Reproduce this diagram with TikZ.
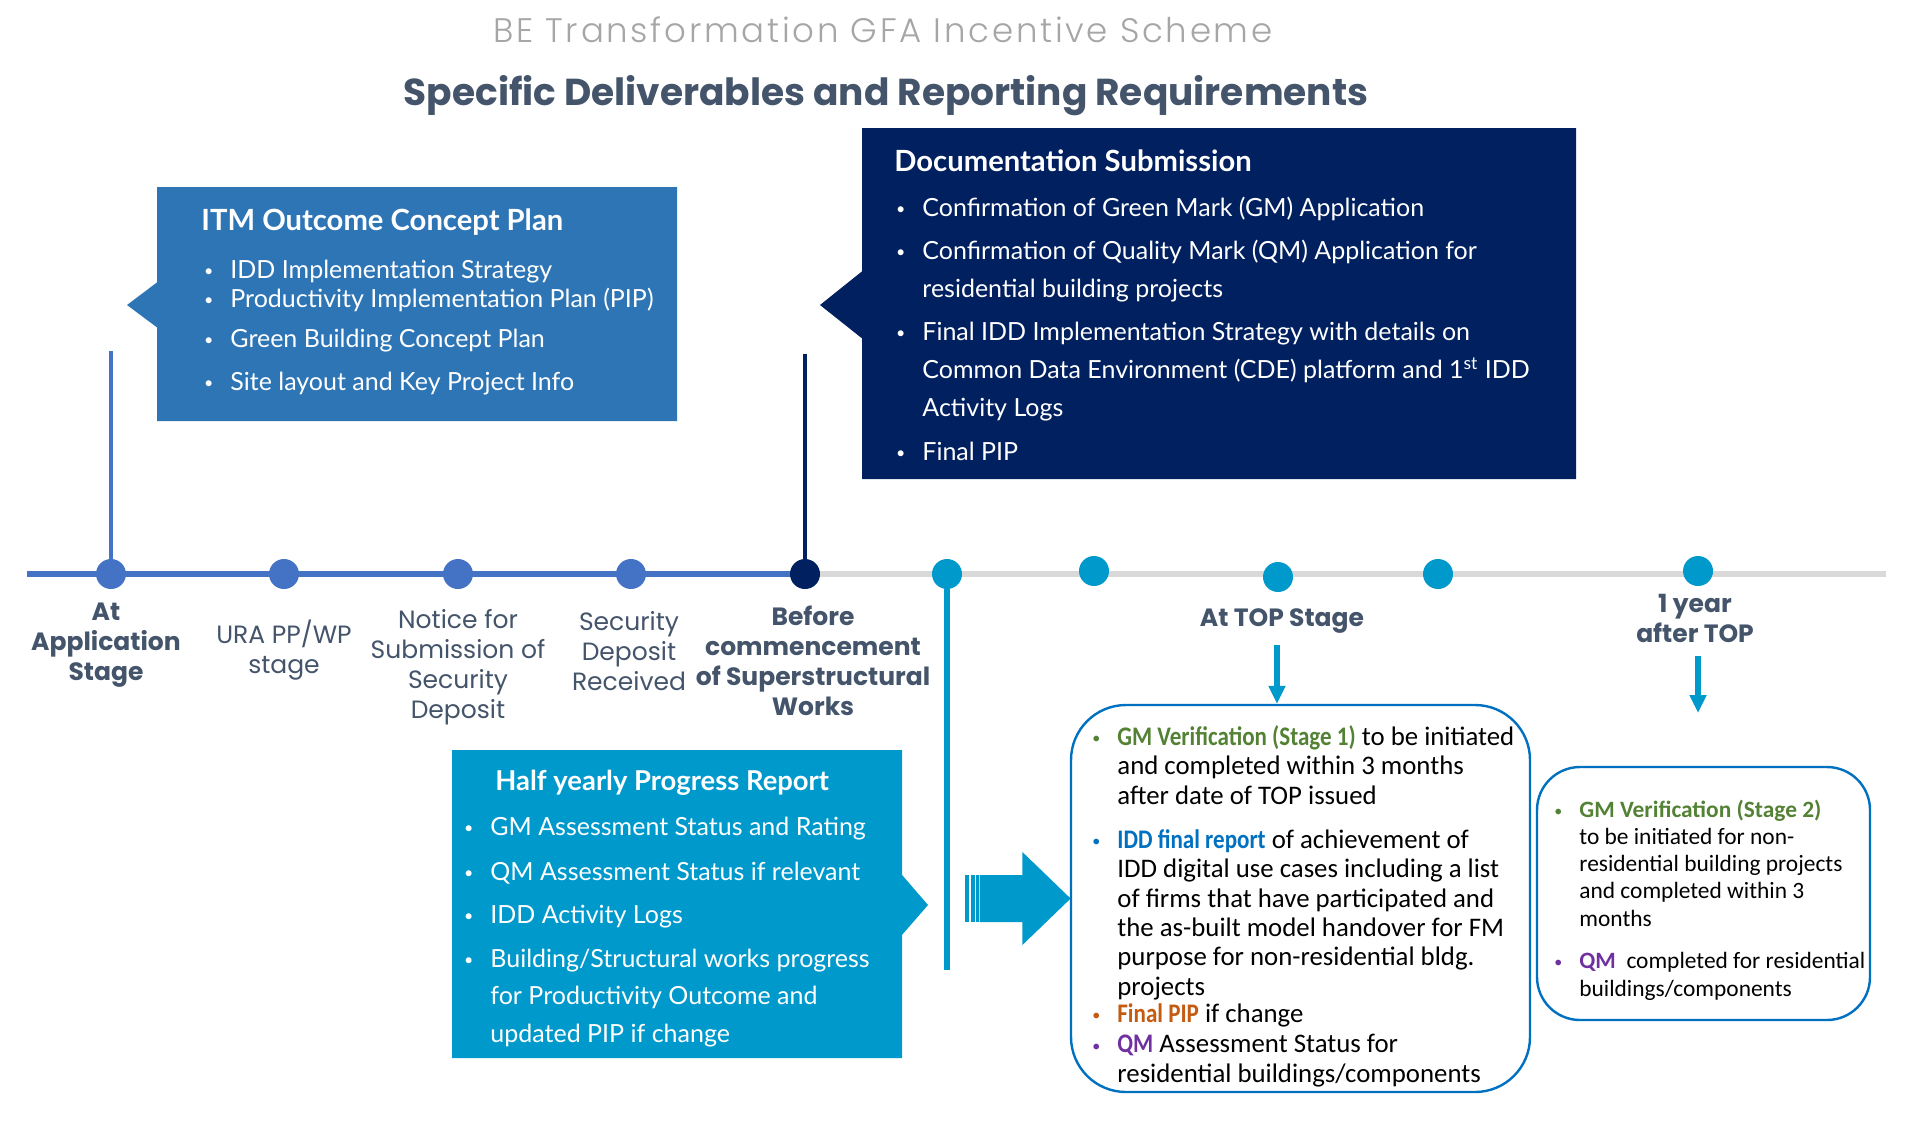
\documentclass[tikz,border=0pt]{standalone}
\usepackage{fontspec}
\setmainfont{Lato}
\newfontfamily\popfont{Poppins}
\IfFontExistsTF{Poppins Light}
  {\newfontfamily\popspaced[LetterSpace=8]{Poppins Light}}
  {\newfontfamily\popspaced[LetterSpace=8]{Poppins}}
\newfontfamily\calfont{Carlito}
\newfontfamily\calcond[FakeStretch=0.86]{Carlito}
\usepackage{xcolor}
\usetikzlibrary{shapes.callouts, arrows.meta, backgrounds}

\definecolor{tlblue}{HTML}{4472C4}
\definecolor{itmblue}{HTML}{2E75B6}
\definecolor{navy}{HTML}{002060}
\definecolor{hyblue}{HTML}{0099CC}
\definecolor{tlgray}{HTML}{D9D9D9}
\definecolor{slate}{HTML}{44546A}
\definecolor{titlegray}{HTML}{A6A6A6}
\definecolor{frameblue}{HTML}{0070C0}
\definecolor{gmgreen}{HTML}{548235}
\definecolor{iddblue}{HTML}{0070C0}
\definecolor{piporange}{HTML}{C55A11}
\definecolor{qmpurple}{HTML}{7030A0}

\newcommand{\bul}[1][white]{\llap{\textcolor{#1}{\raisebox{.12ex}{\footnotesize\textbullet}}\hspace{8.5pt}}}
\newcommand{\hl}[2]{\textcolor{#1}{\bfseries #2}}

\tikzset{
  tldot/.style={circle, fill=#1, inner sep=0pt, minimum size=15pt},
  tlline/.style={line width=2.8pt},
  stem/.style={line width=#1},
  stagelbl/.style={align=center, anchor=base, inner sep=0pt, text=slate,
    font=\popfont\fontsize{12.5}{15}\selectfont},
  stagebold/.style={stagelbl, font=\popfont\bfseries\fontsize{12.5}{15}\selectfont},
  callbox/.style={rectangle callout, draw=none, inner sep=0pt, outer sep=0pt},
  whitebox/.style={draw=frameblue, line width=1.2pt, rounded corners=#1, inner sep=0pt},
  boxhead/.style={anchor=base west, inner sep=0pt, text=white, font=\bfseries\fontsize{#1}{17}\selectfont},
  boxtxt/.style={anchor=base west, inner sep=0pt, align=left, text=white, font=\fontsize{12.5}{#1}\selectfont},
  bigtxt/.style={anchor=base west, inner sep=0pt, align=left, text=black, font=\calfont\fontsize{13.4}{14.65}\selectfont},
  smalltxt/.style={anchor=base west, inner sep=0pt, align=left, text=black, font=\calfont\fontsize{11.7}{13.55}\selectfont},
  downarr/.style={draw=hyblue, line width=3pt, -{Triangle[length=9pt,width=8pt]}}
}

\begin{document}
\begin{tikzpicture}[x=0.5pt, y=-0.5pt]
\useasboundingbox (0,0) rectangle (1926,1132);

% titles
\node[anchor=base, inner sep=0pt, text=titlegray, font=\popspaced\fontsize{17}{20}\selectfont] (title) at (883,42) {BE Transformation GFA Incentive Scheme};
\node[anchor=base, inner sep=0pt, text=slate, font=\popfont\bfseries\fontsize{18.75}{22}\selectfont] (subtitle) at (886,105) {Specific Deliverables and Reporting Requirements};

% timeline dots
\node[tldot=tlblue] (d1) at (111,574) {};
\node[tldot=tlblue] (d2) at (284,574) {};
\node[tldot=tlblue] (d3) at (458,574) {};
\node[tldot=tlblue] (d4) at (631,574) {};
\node[tldot=navy] (d5) at (805,574) {};
\node[tldot=hyblue] (d6) at (947,574) {};
\node[tldot=hyblue] (d7) at (1094,571) {};
\node[tldot=hyblue] (d8) at (1278,577) {};
\node[tldot=hyblue] (d9) at (1438,574) {};
\node[tldot=hyblue] (d10) at (1698,571) {};

\coordinate (tl0) at (27,574);
\coordinate (tl1) at (1886,574);
\coordinate (s1) at (111,351);
\coordinate (s5) at (805,354);
\coordinate (s6) at (947,970);

\begin{scope}[on background layer]
  \fill[white] (0,0) rectangle (1926,1132);
  \draw[tlline, tlblue] (tl0) -- (d5.center);
  \draw[tlline, tlgray] (d5.center) -- (tl1);
\end{scope}

% stems
\draw[stem=2.2pt, tlblue] (d1) -- (s1);
\draw[stem=2.2pt, navy] (d5) -- (s5);
\draw[stem=3pt, hyblue] (d6) -- (s6);

% stage labels (base = last line)
\node[stagebold] (lbl1) at (106,680) {At\\Application\\Stage};
\node[stagelbl] (lbl2) at (284,673) {URA PP/WP\\stage};
\node[stagelbl] (lbl3) at (458,718) {Notice for\\Submission of\\Security\\Deposit};
\node[stagelbl] (lbl4) at (629,690) {Security\\Deposit\\Received};
\node[stagebold] (lbl5) at (813,715) {Before\\commencement\\of Superstructural\\Works};
\node[stagebold] (lbl8) at (1282,626) {At TOP Stage};
\node[stagebold] (lbl10) at (1695,642) {1 year\\after TOP};

% ITM outcome concept plan
\node[callbox, fill=itmblue, minimum width=260pt, minimum height=117pt,
  callout absolute pointer={(127,305)}, callout pointer width=22.5pt] (itm) at (417,304) {};
\node[boxhead=14.6] (itmhead) at (201,230) {ITM Outcome Concept Plan};
\foreach \y/\t [count=\i] in {278/IDD Implementation Strategy, 307/Productivity Implementation Plan (PIP),
  347/Green Building Concept Plan, 390/Site layout and Key Project Info}
  \node[boxtxt=19] (itm\i) at (230,\y) {\bul\t};

% documentation submission
\node[callbox, fill=navy, minimum width=357pt, minimum height=175.5pt,
  callout absolute pointer={(820,305)}, callout pointer width=33.5pt] (doc) at (1219,303.5) {};
\node[boxhead=14.6] (dochead) at (894,171) {Documentation Submission};
\foreach \y/\t [count=\i] in {216/Confirmation of Green Mark (GM) Application,
  297/{Confirmation of Quality Mark (QM) Application for\\residential building projects},
  416/{Final IDD Implementation Strategy with details on\\Common Data Environment (CDE) platform and 1\textsuperscript{st} IDD\\Activity Logs},
  460/Final PIP}
  \node[boxtxt=19] (doc\i) at (922,\y) {\bul\t};

% half yearly progress report
\node[callbox, fill=hyblue, minimum width=225pt, minimum height=154pt,
  callout absolute pointer={(928,905)}, callout pointer width=30pt] (half) at (677,904) {};
\node[boxhead=13.7] (halfhead) at (495,790) {Half yearly Progress Report};
\foreach \y/\t [count=\i] in {835/GM Assessment Status and Rating, 880/QM Assessment Status if relevant,
  923/IDD Activity Logs,
  1042/{Building/Structural works progress\\for Productivity Outcome and\\updated PIP if change}}
  \node[boxtxt=18.75] (half\i) at (490,\y) {\bul\t};

% block arrow
\fill[hyblue] (964.5,875) rectangle (969.4,922);
\fill[hyblue] (970.6,875) rectangle (974.7,922);
\fill[hyblue] (975.9,875) rectangle (978.8,922);
\fill[hyblue] (979.6,875) -- (1022.4,875) -- (1022.4,852) -- (1070.6,898.5)
  -- (1022.4,945) -- (1022.4,922) -- (979.6,922) -- cycle;

% at TOP stage
\node[whitebox=27.5pt, minimum width=229.5pt, minimum height=193.5pt] (top) at (1300.5,898.5) {};
\coordinate (a1) at (1277,645);
\draw[downarr] (a1) -- (a1 |- top.north);
\node[bigtxt] (top1) at (1117,804) {\bul[gmgreen]\hl{gmgreen}{\calcond GM Verification (Stage 1)} to be initiated\\and completed within 3 months\\after date of TOP issued};
\node[bigtxt] (top2) at (1117,995) {\bul[iddblue]\hl{iddblue}{\calcond IDD final report} of achievement of\\IDD digital use cases including a list\\of firms that have participated and\\the as-built model handover for FM\\purpose for non-residential bldg.\\projects};
\node[bigtxt] (top3) at (1117,1022) {\bul[piporange]\hl{piporange}{\calcond Final PIP} if change};
\node[bigtxt] (top4) at (1117,1082) {\bul[qmpurple]\hl{qmpurple}{\calcond QM} Assessment Status for\\residential buildings/components};

% 1 year after TOP
\node[whitebox=21.5pt, minimum width=166.5pt, minimum height=126.5pt] (year) at (1703.5,893.5) {};
\coordinate (a2) at (1698,656);
\coordinate (a2e) at (1698,713);
\draw[downarr] (a2) -- (a2e);
\node[smalltxt] (year1) at (1579,926) {\bul[gmgreen]\hl{gmgreen}{GM Verification (Stage 2)}\\to be initiated for non-\\residential building projects\\and completed within 3\\months};
\node[smalltxt] (year2) at (1579,996) {\bul[qmpurple]\hl{qmpurple}{QM}\ \ completed for residential\\buildings/components};
\end{tikzpicture}
\end{document}
